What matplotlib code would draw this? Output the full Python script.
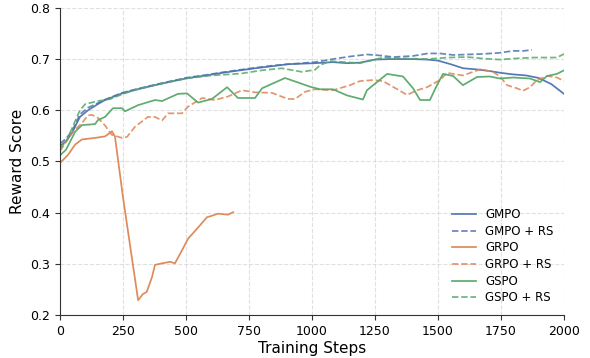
import matplotlib
matplotlib.use("Agg")
import matplotlib.pyplot as plt

colors = {"blue": "#4C72B0", "orange": "#DD8452", "green": "#55A868"}

gmpo_x = [0, 25, 48, 79, 111, 150, 179, 210, 246, 300, 377, 450, 508, 580, 643, 700, 774, 840, 905, 960, 1012, 1083, 1139, 1190, 1250, 1310, 1400, 1456, 1500, 1550, 1600, 1650, 1700, 1750, 1800, 1850, 1900, 1950, 2000]
gmpo_y = [0.530, 0.540, 0.556, 0.587, 0.600, 0.612, 0.620, 0.626, 0.633, 0.640, 0.649, 0.657, 0.663, 0.668, 0.673, 0.677, 0.682, 0.686, 0.690, 0.691, 0.692, 0.694, 0.692, 0.693, 0.699, 0.700, 0.700, 0.699, 0.697, 0.690, 0.682, 0.680, 0.677, 0.673, 0.670, 0.668, 0.663, 0.651, 0.632]

gmpo_rs_x = [0, 25, 48, 79, 111, 150, 179, 246, 300, 377, 450, 508, 580, 643, 700, 774, 840, 905, 960, 1012, 1083, 1150, 1218, 1270, 1322, 1400, 1460, 1508, 1560, 1620, 1679, 1740, 1798, 1840, 1873]
gmpo_rs_y = [0.535, 0.545, 0.560, 0.592, 0.605, 0.614, 0.621, 0.634, 0.641, 0.650, 0.658, 0.664, 0.669, 0.674, 0.678, 0.683, 0.687, 0.690, 0.692, 0.694, 0.700, 0.705, 0.709, 0.707, 0.704, 0.706, 0.711, 0.711, 0.708, 0.709, 0.710, 0.712, 0.716, 0.716, 0.718]

grpo_x = [0, 32, 60, 87, 139, 179, 198, 206, 218, 250, 310, 329, 344, 365, 377, 405, 437, 456, 488, 508, 548, 583, 603, 627, 667, 687]
grpo_y = [0.497, 0.513, 0.533, 0.543, 0.546, 0.549, 0.556, 0.559, 0.549, 0.430, 0.229, 0.241, 0.245, 0.274, 0.298, 0.301, 0.304, 0.301, 0.330, 0.349, 0.371, 0.391, 0.394, 0.398, 0.396, 0.401]

grpo_rs_x = [0, 48, 87, 111, 127, 151, 179, 206, 246, 266, 298, 349, 377, 405, 429, 484, 508, 564, 615, 667, 722, 774, 841, 905, 933, 972, 1012, 1083, 1151, 1190, 1242, 1282, 1310, 1349, 1377, 1417, 1456, 1508, 1536, 1599, 1639, 1667, 1718, 1746, 1774, 1813, 1837, 1865, 1893, 1933, 1972, 2000]
grpo_rs_y = [0.520, 0.556, 0.575, 0.590, 0.591, 0.585, 0.570, 0.552, 0.546, 0.548, 0.568, 0.587, 0.587, 0.580, 0.594, 0.594, 0.607, 0.624, 0.620, 0.627, 0.639, 0.635, 0.634, 0.622, 0.622, 0.636, 0.641, 0.639, 0.649, 0.657, 0.659, 0.657, 0.649, 0.638, 0.630, 0.639, 0.645, 0.659, 0.673, 0.668, 0.675, 0.680, 0.675, 0.666, 0.649, 0.643, 0.638, 0.645, 0.659, 0.667, 0.664, 0.657]

gspo_x = [0, 24, 60, 87, 139, 151, 179, 210, 246, 258, 310, 377, 405, 468, 504, 548, 603, 663, 706, 774, 802, 893, 952, 992, 1032, 1083, 1139, 1202, 1218, 1298, 1361, 1401, 1429, 1468, 1496, 1520, 1560, 1599, 1655, 1706, 1746, 1798, 1865, 1905, 1933, 1972, 2000]
gspo_y = [0.512, 0.523, 0.558, 0.571, 0.573, 0.581, 0.587, 0.604, 0.604, 0.598, 0.610, 0.620, 0.618, 0.632, 0.633, 0.615, 0.622, 0.645, 0.624, 0.624, 0.643, 0.663, 0.653, 0.646, 0.641, 0.641, 0.629, 0.621, 0.639, 0.671, 0.666, 0.643, 0.620, 0.620, 0.649, 0.671, 0.667, 0.649, 0.665, 0.666, 0.662, 0.664, 0.662, 0.655, 0.667, 0.671, 0.678]

gspo_rs_x = [0, 25, 48, 79, 100, 150, 200, 250, 300, 400, 500, 600, 667, 722, 800, 880, 960, 1012, 1032, 1071, 1190, 1282, 1380, 1456, 1540, 1615, 1680, 1746, 1800, 1877, 1940, 1972, 2000]
gspo_rs_y = [0.525, 0.540, 0.565, 0.600, 0.612, 0.618, 0.622, 0.632, 0.640, 0.652, 0.662, 0.668, 0.670, 0.672, 0.678, 0.682, 0.675, 0.679, 0.688, 0.696, 0.692, 0.703, 0.701, 0.700, 0.703, 0.704, 0.701, 0.699, 0.701, 0.703, 0.703, 0.703, 0.710]

series = [
    ("GMPO", gmpo_x, gmpo_y, "blue", "-"),
    ("GMPO + RS", gmpo_rs_x, gmpo_rs_y, "blue", "--"),
    ("GRPO", grpo_x, grpo_y, "orange", "-"),
    ("GRPO + RS", grpo_rs_x, grpo_rs_y, "orange", "--"),
    ("GSPO", gspo_x, gspo_y, "green", "-"),
    ("GSPO + RS", gspo_rs_x, gspo_rs_y, "green", "--"),
]

fig = plt.figure(figsize=(5.9, 3.58), dpi=100)
ax = fig.add_axes([0.1017, 0.12, 0.8542, 0.858])

for label, xs, ys, c, ls in series:
    ax.plot(xs, ys, ls, color=colors[c], lw=1.25, alpha=0.95 if ls == "-" else 0.85, label=label)

ax.set_xlim(0, 2000)
ax.set_ylim(0.2, 0.8)
ax.set_xticks([0, 250, 500, 750, 1000, 1250, 1500, 1750, 2000])
ax.set_yticks([0.2, 0.3, 0.4, 0.5, 0.6, 0.7, 0.8])
ax.grid(True, linestyle="--", color="#cccccc", alpha=0.6, lw=0.8)
ax.set_axisbelow(True)
for s in ["top", "right"]:
    ax.spines[s].set_visible(False)
for s in ["left", "bottom"]:
    ax.spines[s].set_color("#333333")
ax.tick_params(labelsize=9, colors="#333333", labelcolor="black")
ax.set_xlabel("Training Steps", fontsize=11, labelpad=2)
ax.set_ylabel("Reward Score", fontsize=11)
ax.legend(loc="lower right", frameon=False, fontsize=8.5, labelspacing=0.31,
          bbox_to_anchor=(1.0, 0.0))

fig.savefig("out.png", dpi=100)
